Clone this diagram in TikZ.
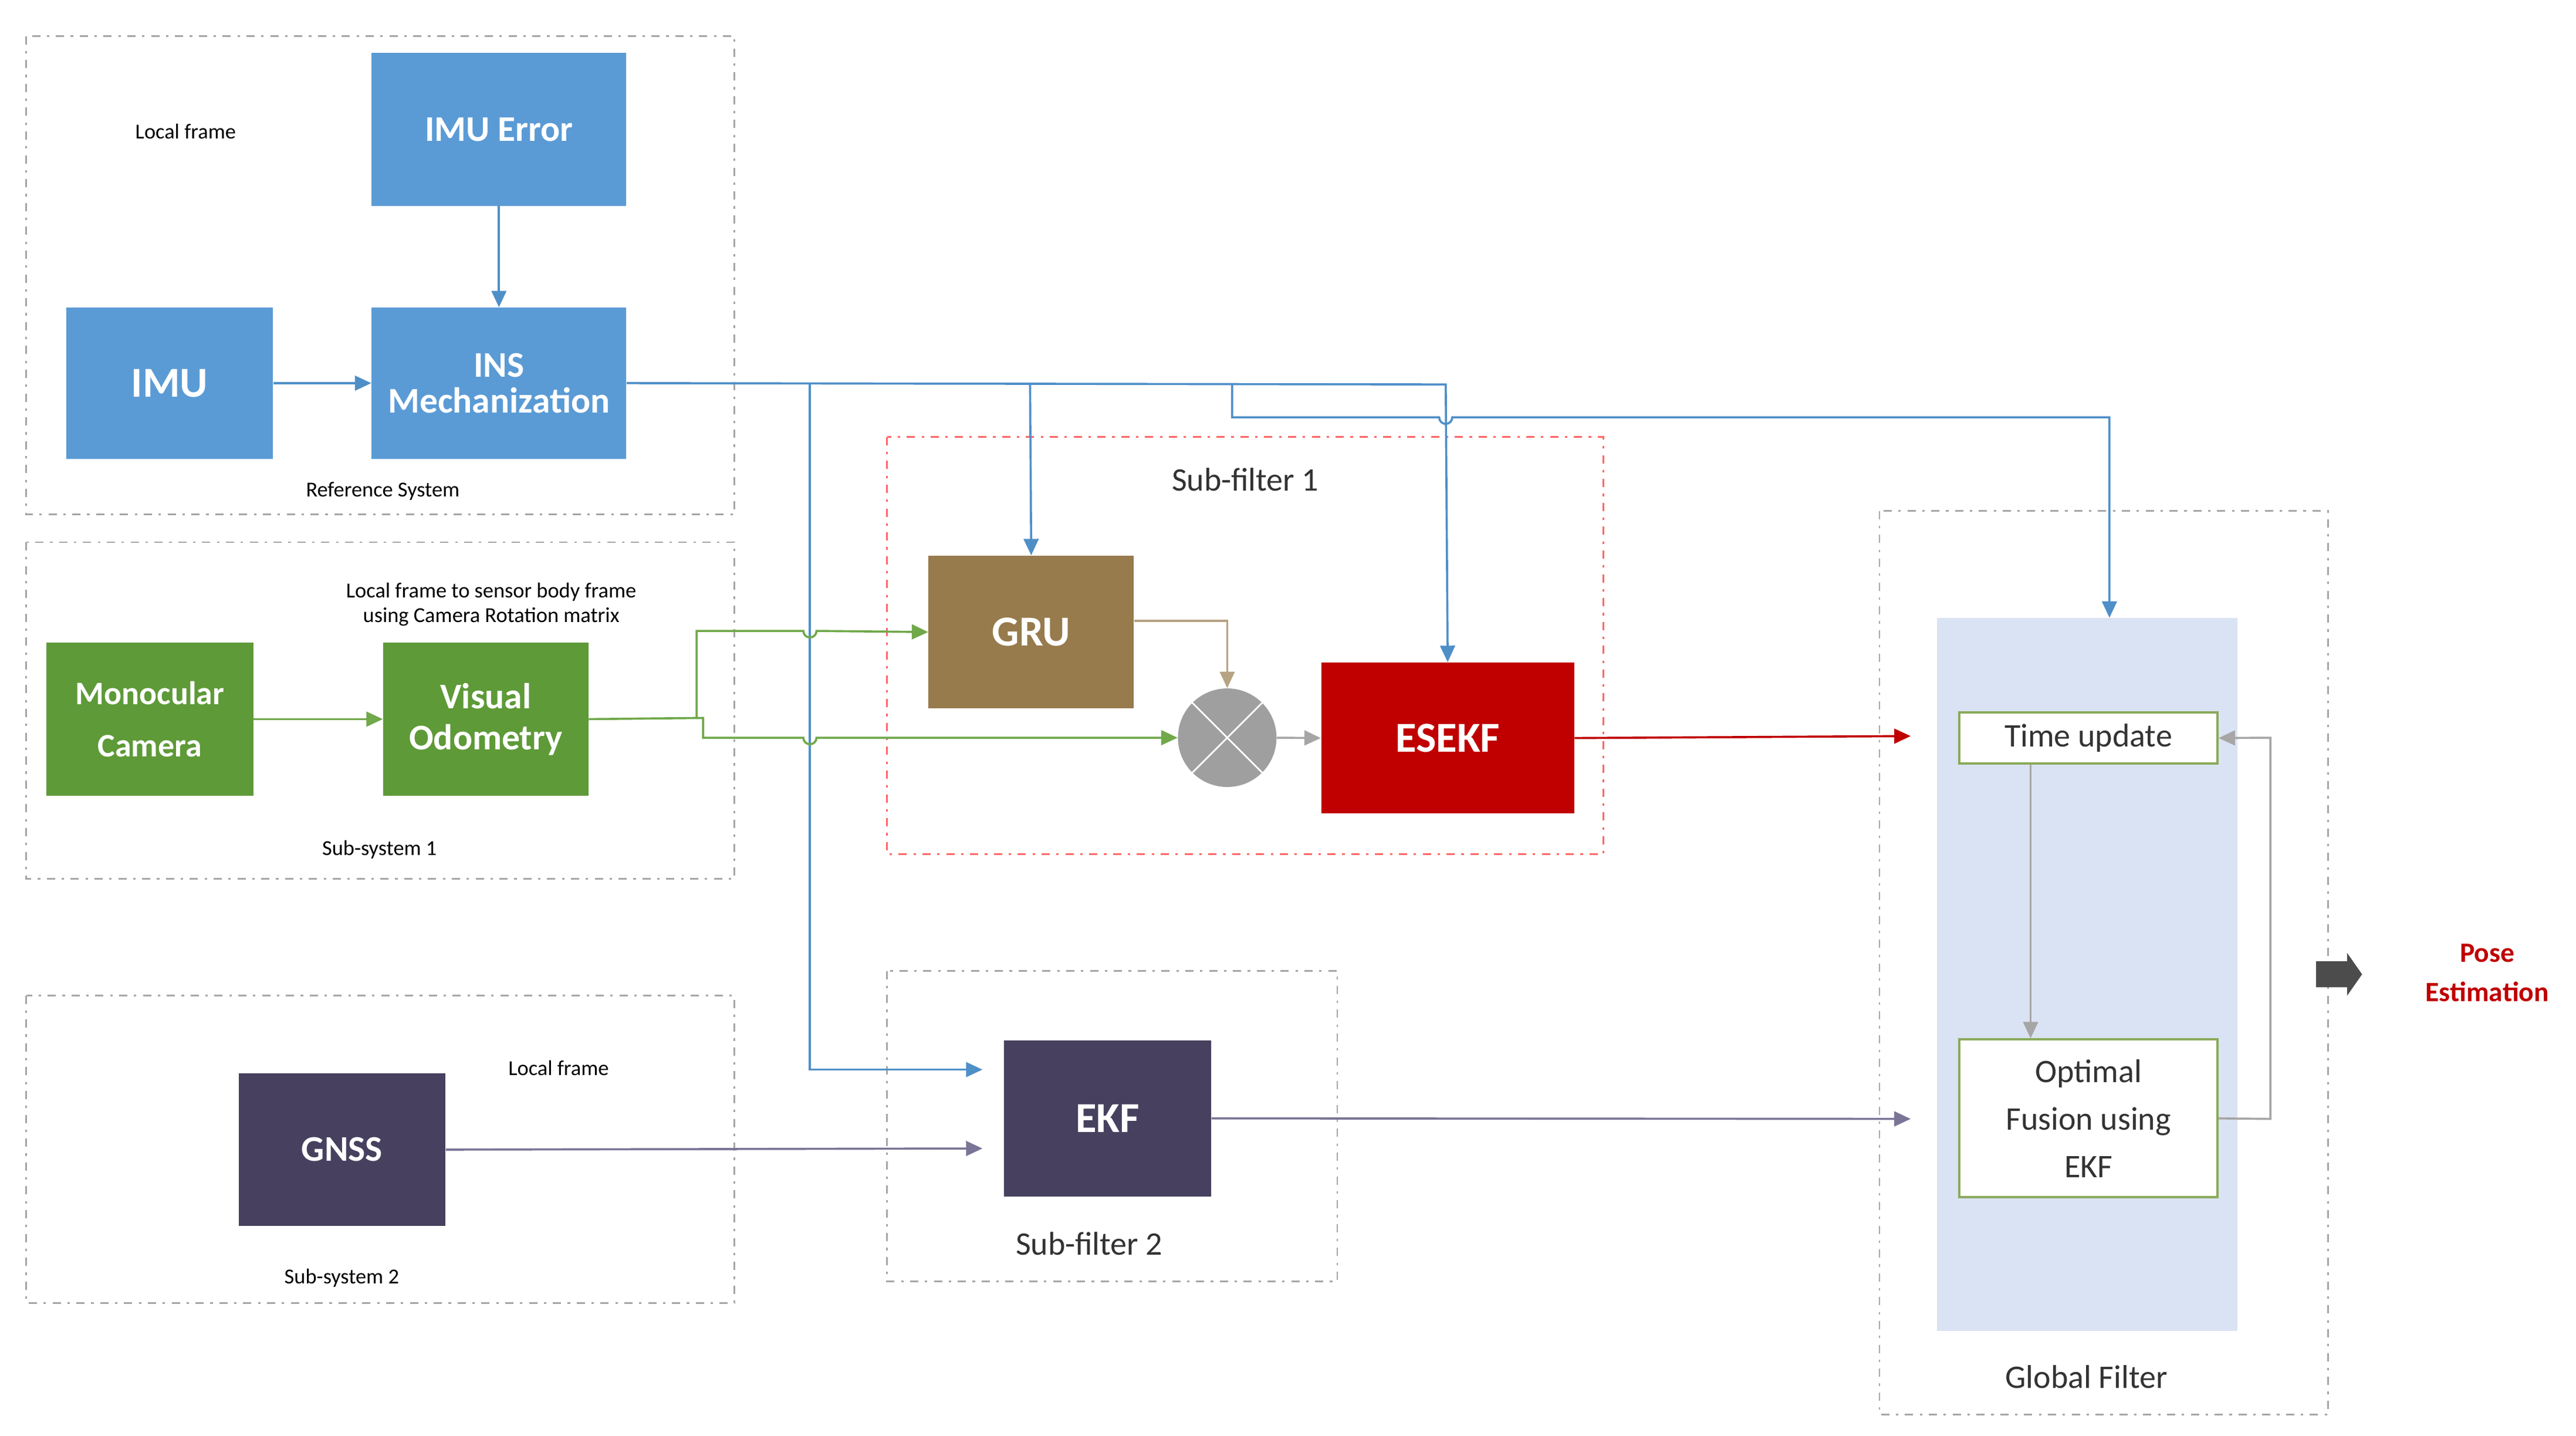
\documentclass[tikz,border=0pt]{standalone}
\usepackage{fontspec}
\setmainfont{Carlito}
\usetikzlibrary{arrows.meta,shapes.arrows}
\definecolor{cblue}{HTML}{5B9BD5}
\definecolor{cgreen}{HTML}{5E9A38}
\definecolor{cgru}{HTML}{977B4C}
\definecolor{cred}{HTML}{C00000}
\definecolor{cpur}{HTML}{47415F}
\definecolor{cpanel}{HTML}{DAE3F3}
\definecolor{cbord}{HTML}{8AAA5A}
\definecolor{lblue}{HTML}{4F8FC8}
\definecolor{lgreen}{HTML}{70A84A}
\definecolor{lpur}{HTML}{7A7596}
\begin{document}
\begin{tikzpicture}[x=1pt,y=-1pt,
  blk/.style={draw=none,anchor=north west,minimum width=#1,text=white,font=\bfseries\fontsize{22}{25}\selectfont,align=center,inner sep=0pt},
  grp/.style={draw=gray!70,dash pattern=on 5pt off 4pt on 1.5pt off 4pt,line width=1pt},
  small/.style={font=\fontsize{13}{15}\selectfont},
  mid/.style={font=\fontsize{20}{23}\selectfont,text=black!80},
  arr/.style={-{Triangle[length=10pt,width=9pt]},line width=1.3pt},
  wbox/.style={draw=cbord,fill=white,line width=1.4pt,anchor=north west,inner sep=0pt,align=center,font=\fontsize{20}{23}\selectfont,text=black!80}]
\useasboundingbox (0,0) rectangle (1568,874);
\fill[white] (0,0) rectangle (1568,874);
% group boxes
\draw[grp] (16,22) rectangle (447,313);
\draw[grp] (16,330) rectangle (447,535);
\draw[grp,draw=red!60] (540,266) rectangle (976,520);
\draw[grp] (16,606) rectangle (447,793);
\draw[grp] (540,591) rectangle (814,780);
\draw[grp] (1144,311) rectangle (1417,861);
\fill[cpanel] (1179,376) rectangle (1362,810);
\coordinate (ptop) at (1284,376);
% labels
\node[small] (l1) at (113,80) {Local frame};
\node[small] (l2) at (233,299) {Reference System};
\node[small,align=center] (l3) at (299,368) {Local frame to sensor body frame\\using Camera Rotation matrix};
\node[small] (l4) at (231,517) {Sub-system 1};
\node[small] (l5) at (340,650) {Local frame};
\node[small] (l6) at (208,778) {Sub-system 2};
\node[mid] (l7) at (758,292) {Sub-filter 1};
\node[mid] (l8) at (663,757) {Sub-filter 2};
\node[mid] (l9) at (1270,838) {Global Filter};
\node[text=cred,font=\bfseries\fontsize{17}{24}\selectfont,align=center] (pose) at (1514,592) {Pose\\Estimation};
% blocks
\node[blk=155pt,minimum height=93pt,fill=cblue] (err) at (226,32) {IMU Error};
\node[blk=126pt,minimum height=92pt,fill=cblue,font=\bfseries\fontsize{26}{29}\selectfont] (imu) at (40,187) {IMU};
\node[blk=155pt,minimum height=92pt,fill=cblue] (ins) at (226,187) {INS\\[-3pt]Mechanization};
\node[blk=126pt,minimum height=93pt,fill=cgreen,font=\bfseries\fontsize{20}{32}\selectfont] (cam) at (28,391) {Monocular\\Camera};
\node[blk=125pt,minimum height=93pt,fill=cgreen] (vo) at (233,391) {Visual\\Odometry};
\node[blk=125pt,minimum height=93pt,fill=cgru,font=\bfseries\fontsize{26}{29}\selectfont] (gru) at (565,338) {GRU};
\node[circle,fill=gray!75,minimum size=60pt,inner sep=0pt] (mul) at (747,449) {};
\draw[white,line width=1pt] (mul.north east) -- (mul.south west) (mul.north west) -- (mul.south east);
\node[blk=154pt,minimum height=92pt,fill=cred,font=\bfseries\fontsize{26}{29}\selectfont] (esekf) at (804,403) {ESEKF};
\node[blk=126pt,minimum height=93pt,fill=cpur] (gnss) at (145,653) {GNSS};
\node[blk=126pt,minimum height=95pt,fill=cpur,font=\bfseries\fontsize{26}{29}\selectfont] (ekf) at (611,633) {EKF};
\node[wbox,minimum width=157pt,minimum height=31pt] (tu) at (1192,433) {Time update};
\node[wbox,minimum width=157pt,minimum height=96pt,font=\fontsize{20}{29}\selectfont] (opt) at (1192,632) {Optimal\\Fusion using\\EKF};
% arrows reference system
\draw[arr,lblue] (err.south) -- (ins.north);
\draw[arr,lblue] (imu.east) -- (ins.west);
\draw[arr,lblue] (ins.east) -- (880,234) -- (esekf.north);
\draw[arr,lblue] (493,234) -- (493,651) -- (598,651);
\draw[arr,lblue] (627,234) -- (gru.north);
\draw[arr,lblue] (750,234) -- (750,254) -- (876,254) arc[start angle=180,end angle=0,radius=4] -- (1284,254) -- (ptop);
% vision
\draw[arr,lgreen] (cam.east) -- (vo.west);
\draw[arr,lgreen] (vo.east) -- (424,437) -- (424,384) -- (489,384) arc[start angle=180,end angle=0,radius=4] -- (gru.west);
\draw[arr,lgreen] (424,437) -- (428,437) -- (428,449) -- (489,449) arc[start angle=180,end angle=0,radius=4] -- (mul.west);
\draw[arr,cgru!70] (gru.east |- 0,378) -- (747,378) -- (mul.north);
\draw[arr,gray!70] (mul.east) -- (esekf.west);
\draw[arr,cred] (esekf.east) -- (1163,448);
% gnss
\draw[arr,lpur] (gnss.east) -- (598,699);
\draw[arr,lpur] (ekf.east) -- (1163,681);
% global
\draw[arr,gray!70] (tu.south -| 1236,0) -- (opt.north -| 1236,0);
\draw[arr,gray!70] (opt.east) -- (1382,681) -- (1382,449) -- (tu.east);
\node[single arrow,fill=black!70,draw=none,minimum height=28pt,minimum width=26pt,single arrow head extend=4pt,inner sep=6pt,single arrow tip angle=110] (big) at (1421,593) {};
\end{tikzpicture}
\end{document}
